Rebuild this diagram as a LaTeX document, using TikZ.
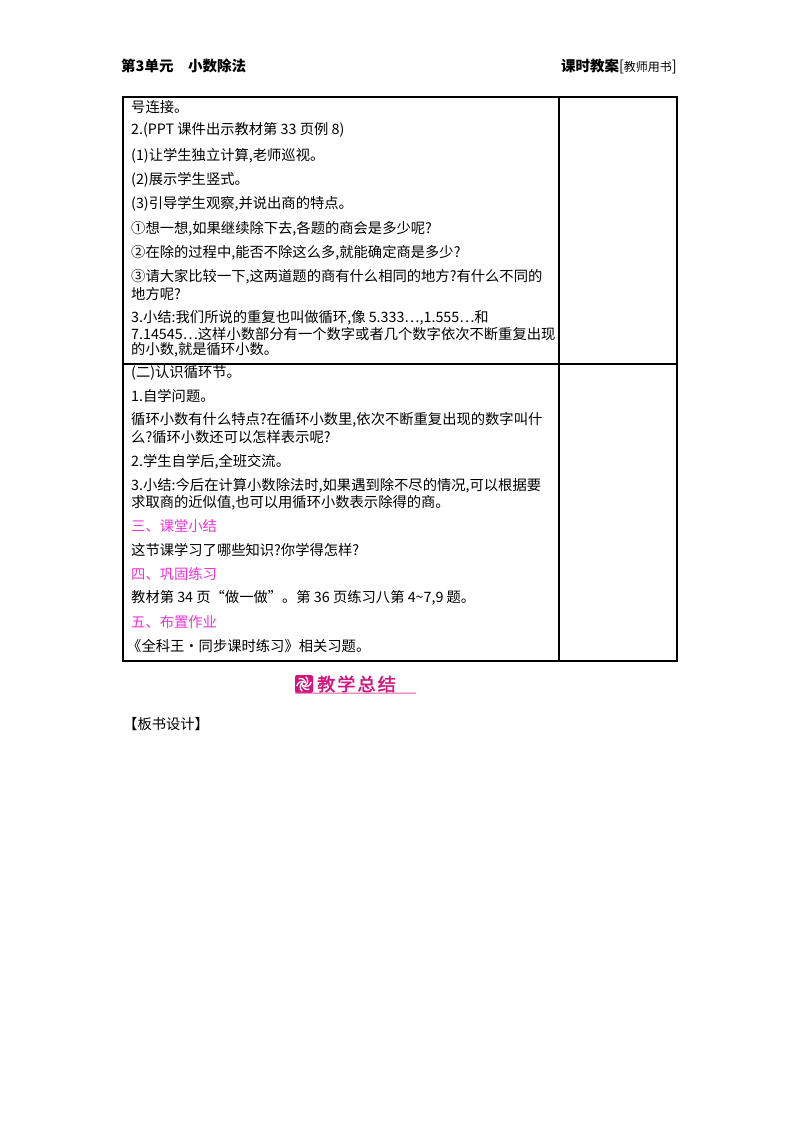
\documentclass[tikz,border=0pt]{standalone}
\usepackage{fontspec}
\setmainfont{Noto Sans CJK SC}
\newfontfamily\cjkb[FakeBold=2,LetterSpace=12]{Noto Sans CJK SC}
\definecolor{mag}{HTML}{F032D8}
\definecolor{badge}{HTML}{D2157F}
\begin{document}
\begin{tikzpicture}[x=1pt,y=-1pt,
  tx/.style={anchor=west,inner sep=0pt,font=\fontsize{14.3}{15}\selectfont},
  hd/.style={tx,text=mag},
  frame/.style={line width=1.1pt}]
\useasboundingbox (0,0) rectangle (800,1132);
\node[anchor=west,inner sep=0pt,font=\fontsize{14.5}{16}\selectfont\bfseries] (h1) at (121,66) {第3单元\quad 小数除法};
\node[anchor=east,inner sep=0pt,font=\fontsize{14.5}{16}\selectfont] (h2) at (677,66) {\textbf{课时教案}[{\fontsize{12}{13}\selectfont 教师用书}]};
\draw[frame] (123,97) rectangle (677,661);
\draw[frame] (559,97) -- (559,661);
\draw[frame] (123,364) -- (677,364);
\node[tx] (l1) at (131,107) {号连接。};
\node[tx] (l2) at (131,130) {2.(PPT 课件出示教材第 33 页例 8)};
\node[tx] (l3) at (131,156) {(1)让学生独立计算,老师巡视。};
\node[tx] (l4) at (131,180) {(2)展示学生竖式。};
\node[tx] (l5) at (131,204) {(3)引导学生观察,并说出商的特点。};
\node[tx] (l6) at (131,229) {①想一想,如果继续除下去,各题的商会是多少呢?};
\node[tx] (l7) at (131,253) {②在除的过程中,能否不除这么多,就能确定商是多少?};
\node[tx] (l8) at (131,277) {③请大家比较一下,这两道题的商有什么相同的地方?有什么不同的};
\node[tx] (l9) at (131,294) {地方呢?};
\node[tx] (l10) at (131,318) {3.小结:我们所说的重复也叫做循环,像 5.333…,1.555…和};
\node[tx] (l11) at (131,334) {7.14545…这样小数部分有一个数字或者几个数字依次不断重复出现};
\node[tx] (l12) at (131,350) {的小数,就是循环小数。};
\node[tx] (m1) at (131,373) {(二)认识循环节。};
\node[tx] (m2) at (131,396) {1.自学问题。};
\node[tx] (m3) at (131,420) {循环小数有什么特点?在循环小数里,依次不断重复出现的数字叫什};
\node[tx] (m4) at (131,437) {么?循环小数还可以怎样表示呢?};
\node[tx] (m5) at (131,462) {2.学生自学后,全班交流。};
\node[tx] (m6) at (131,486) {3.小结:今后在计算小数除法时,如果遇到除不尽的情况,可以根据要};
\node[tx] (m7) at (131,503) {求取商的近似值,也可以用循环小数表示除得的商。};
\node[hd] (s3) at (131,526) {三、课堂小结};
\node[tx] (m8) at (131,550) {这节课学习了哪些知识?你学得怎样?};
\node[hd] (s4) at (131,574) {四、巩固练习};
\node[tx] (m9) at (131,598) {教材第 34 页“做一做”。第 36 页练习八第 4\textasciitilde7,9 题。};
\node[hd] (s5) at (131,622) {五、布置作业};
\node[tx] (m10) at (127,646) {《全科王·同步课时练习》相关习题。};
% badge
\node[fill=badge,rounded corners=2pt,minimum width=18pt,minimum height=18pt,inner sep=0pt] (ic) at (304,684) {};
\foreach \a in {0,60,...,300}
  \draw[white,line width=1.3pt] ([shift={(\a:2pt)}]ic.center) arc[start angle=\a,end angle=\a+110,radius=5.5pt];
\node[anchor=west,inner sep=0pt,text=badge,font=\fontsize{18}{19}\cjkb] (bt) at (317,684) {教学总结};
\draw[badge!70,line width=1pt] (ic.south west) -- (416,693);
\node[tx] (bs) at (123,724) {【板书设计】};
\end{tikzpicture}
\end{document}
